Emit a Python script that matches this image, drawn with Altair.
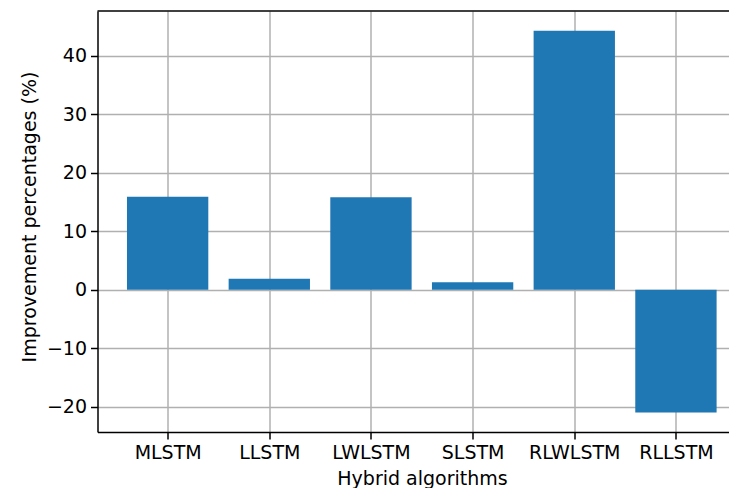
import altair as alt
import pandas as pd

categories = ["MLSTM", "LLSTM", "LWLSTM", "SLSTM", "RLWLSTM", "RLLSTM"]
values = [15.9, 1.9, 15.8, 1.3, 44.3, -21.0]
y_ticks = [-20, -10, 0, 10, 20, 30, 40]

df = pd.DataFrame({"algorithm": categories, "value": values,
                   "pos": list(range(len(categories)))})

W = 631.5
H = 421
FONT = "DejaVu Sans"
FS = 19

x_scale = alt.Scale(domain=[-0.69, 5.522], nice=False, zero=False)
y_scale = alt.Scale(domain=[-24.32, 47.66], nice=False, zero=False)

names_js = "[" + ",".join("'" + c + "'" for c in categories) + "]"

bars = alt.Chart(df).transform_calculate(
    x0="datum.pos - 0.4", x1="datum.pos + 0.4"
).mark_bar(color="#1f77b4").encode(
    x=alt.X("x0:Q", scale=x_scale,
            axis=alt.Axis(values=list(range(len(categories))),
                          labelExpr=names_js + "[datum.value]",
                          title="Hybrid algorithms",
                          titleX=324.5, titleY=52.5,
                          titleBaseline="alphabetic",
                          titleAlign="center")),
    x2="x1:Q",
    y=alt.Y("value:Q", scale=y_scale,
            axis=alt.Axis(values=y_ticks,
                          labelExpr="datum.value < 0 ? '\u2212' + abs(datum.value) : '' + datum.value",
                          title="Improvement percentages (%)",
                          titleX=-62.5, titleY=205.5,
                          titleAngle=270,
                          titleBaseline="alphabetic",
                          titleAlign="center")),
    y2=alt.datum(0),
)

top = alt.Chart(pd.DataFrame({"a": [0]})).mark_rule(
    color="black", strokeWidth=1.5
).encode(x=alt.value(0), x2=alt.value(W), y=alt.value(0))

chart = alt.layer(bars, top).properties(
    width=W, height=H,
    autosize=alt.AutoSizeParams(type="none"),
    padding={"left": 89.5, "top": 3, "right": 0, "bottom": 56},
).configure_view(stroke=None).configure_axis(
    zindex=1,
    grid=True,
    gridColor="#b0b0b0",
    gridWidth=1.5,
    domainColor="black",
    domainWidth=1.5,
    tickColor="black",
    tickWidth=1.5,
    tickSize=7,
    labelFont=FONT,
    labelFontSize=FS,
    labelColor="black",
    labelPadding=4,
    titleFont=FONT,
    titleFontSize=FS,
    titleFontWeight="normal",
    titleColor="black",
)

chart.save("out.html", embed_options={"renderer": "svg", "actions": False})
